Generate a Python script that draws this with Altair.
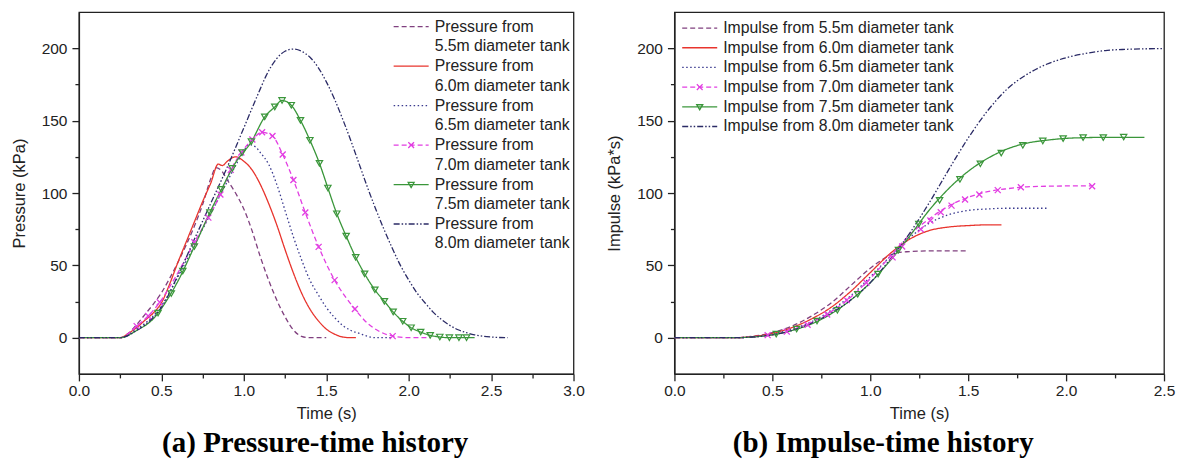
import altair as alt
import pandas as pd

# ---------------- data ----------------
TANKS = ["5.5m", "6.0m", "6.5m", "7.0m", "7.5m", "8.0m"]

# Pressure-time history (kPa)
P55_T = [0, 0.25, 0.30, 0.35, 0.40, 0.45, 0.50, 0.55, 0.60, 0.65, 0.70, 0.75, 0.80, 0.83, 0.86, 0.90, 0.95, 1.00, 1.05, 1.10, 1.15, 1.20, 1.25, 1.30, 1.35, 1.40, 1.50]
P55_P = [0, 0, 3, 9, 16, 23, 31, 41, 52, 64, 77, 92, 110, 117.5, 116, 109, 100, 89, 74, 56, 40, 26, 14.5, 5.5, 1, 0, 0]

P60_T = [0, 0.25, 0.30, 0.35, 0.40, 0.45, 0.50, 0.55, 0.60, 0.65, 0.70, 0.75, 0.80, 0.845, 0.87, 0.90, 0.95, 1.00, 1.05, 1.10, 1.15, 1.20, 1.25, 1.30, 1.35, 1.40, 1.45, 1.50, 1.55, 1.60, 1.65, 1.68]
P60_P = [0, 0, 3, 7, 12, 17, 24, 37, 52, 66, 80, 94, 107, 120, 119, 122, 125, 122, 116, 106, 93, 78, 61, 45, 31, 20, 12, 6, 2.5, 0.5, 0, 0]

P65_T = [0, 0.25, 0.35, 0.45, 0.50, 0.60, 0.70, 0.80, 0.90, 0.95, 1.00, 1.03, 1.07, 1.10, 1.15, 1.20, 1.25, 1.30, 1.35, 1.40, 1.45, 1.50, 1.55, 1.60, 1.65, 1.70, 1.75, 1.80, 1.90]
P65_P = [0, 0, 6, 15, 22, 42, 64, 86, 108, 119, 129, 133.5, 132, 128, 120, 106, 88, 70, 54, 40, 30, 21, 14, 8.5, 5, 3, 1, 0, 0]

P70_T = [0, 0.25, 0.35, 0.42, 0.49, 0.56, 0.63, 0.70, 0.785, 0.858, 0.921, 0.985, 1.052, 1.111, 1.174, 1.236, 1.301, 1.373, 1.454, 1.551, 1.674, 1.75, 1.82, 1.903, 2.00, 2.13]
P70_P = [0, 0, 8, 15, 24.5, 37, 51, 66, 83, 99, 116, 128, 137, 142, 139.4, 126.6, 109, 86.5, 62.8, 39.8, 19.8, 10, 4.5, 1.1, 0, 0]

P75_T = [0, 0.25, 0.35, 0.45, 0.48, 0.55, 0.60, 0.70, 0.794, 0.864, 0.95, 1.046, 1.127, 1.188, 1.232, 1.288, 1.344, 1.401, 1.459, 1.51, 1.564, 1.621, 1.679, 1.733, 1.795, 1.853, 1.906, 1.964, 2.015, 2.073, 2.131, 2.189, 2.247, 2.40]
P75_P = [0, 0, 5, 13, 17, 29, 39, 63, 86.5, 102.5, 121, 135.5, 152.6, 159.5, 164, 160.7, 150.2, 136.5, 120.5, 103.5, 85.7, 70.2, 55.5, 44.1, 33.1, 25.1, 17.8, 11.4, 6.9, 3.9, 1.6, 0.5, 0, 0]

P80_T = [0, 0.25, 0.35, 0.45, 0.50, 0.60, 0.70, 0.80, 0.90, 1.00, 1.10, 1.135, 1.20, 1.25, 1.30, 1.35, 1.40, 1.45, 1.50, 1.55, 1.60, 1.65, 1.70, 1.75, 1.80, 1.85, 1.90, 1.95, 2.00, 2.05, 2.10, 2.15, 2.20, 2.25, 2.30, 2.35, 2.40, 2.50, 2.60]
P80_P = [0, 0, 5, 14, 21, 43, 68, 93, 118, 145, 172, 181, 193, 198, 199.5, 198, 194, 187, 177, 165, 151, 136, 120, 104, 89, 75, 62, 50, 40, 31, 24, 17.5, 12.5, 8.5, 5.5, 3.5, 2, 0.5, 0]

# marker positions on the pressure curves
PM70_T = [0.35, 0.42, 0.49, 0.70, 0.785, 0.858, 0.921, 0.985, 1.052, 1.111, 1.174, 1.236, 1.301, 1.373, 1.454, 1.551, 1.674, 1.903]
PM70_P = [8, 15, 24.5, 66, 83, 99, 116, 128, 137, 142, 139.4, 126.6, 109, 86.5, 62.8, 39.8, 19.8, 1.1]
PM75_T = [0.48, 0.56, 0.63, 0.70, 0.794, 0.864, 0.93, 0.99, 1.046, 1.127, 1.188, 1.232, 1.288, 1.344, 1.401, 1.459, 1.51, 1.564, 1.621, 1.679, 1.733, 1.795, 1.853, 1.906, 1.964, 2.015, 2.073, 2.131, 2.189, 2.247, 2.305, 2.351]
PM75_P = [17, 30.5, 46, 63, 86.5, 102.5, 117, 128, 135.5, 152.6, 159.5, 164, 160.7, 150.2, 136.5, 120.5, 103.5, 85.7, 70.2, 55.5, 44.1, 33.1, 25.1, 17.8, 11.4, 6.9, 3.9, 1.6, 0.5, 0, 0, 0]

# Impulse-time history (kPa*s)
I55_T = [0, 0.30, 0.40, 0.50, 0.60, 0.70, 0.80, 0.90, 1.00, 1.05, 1.10, 1.15, 1.20, 1.30, 1.40, 1.50]
I55_P = [0, 0, 1, 3.5, 8, 15, 24, 36, 48, 53, 57, 59, 59.5, 60, 60, 60]
I60_T = [0, 0.30, 0.40, 0.50, 0.60, 0.70, 0.80, 0.90, 1.00, 1.10, 1.20, 1.30, 1.40, 1.50, 1.60, 1.67]
I60_P = [0, 0, 0.8, 3, 7, 13, 21, 32, 45, 58, 68, 74, 76.5, 77.5, 78, 78]
I65_T = [0, 0.30, 0.40, 0.50, 0.60, 0.70, 0.80, 0.90, 1.00, 1.10, 1.20, 1.30, 1.40, 1.50, 1.60, 1.70, 1.80, 1.90]
I65_P = [0, 0, 0.5, 2.5, 6, 11, 19, 29, 42, 56, 69, 79, 85, 88, 89, 89.5, 89.5, 89.5]
I70_T = [0, 0.30, 0.40, 0.50, 0.60, 0.70, 0.80, 0.90, 1.00, 1.10, 1.20, 1.30, 1.40, 1.50, 1.60, 1.70, 1.80, 1.90, 2.00, 2.13]
I70_P = [0, 0, 0.5, 2, 5.5, 10.5, 18, 28, 41, 56, 71, 82, 91, 97, 101, 103, 104.3, 104.7, 104.9, 105]
I75_T = [0, 0.30, 0.40, 0.50, 0.60, 0.70, 0.80, 0.90, 1.00, 1.10, 1.20, 1.30, 1.40, 1.50, 1.60, 1.70, 1.80, 1.90, 2.00, 2.10, 2.20, 2.30, 2.40]
I75_P = [0, 0, 0.5, 2, 5, 9.5, 16.5, 26, 38, 53, 70, 88, 103, 115, 124, 130.5, 134.5, 136.5, 137.8, 138.3, 138.5, 138.5, 138.5]
I80_T = [0, 0.30, 0.40, 0.50, 0.60, 0.70, 0.80, 0.90, 1.00, 1.10, 1.20, 1.30, 1.40, 1.50, 1.60, 1.70, 1.80, 1.90, 2.00, 2.10, 2.20, 2.30, 2.40, 2.50]
I80_P = [0, 0, 0.5, 2, 5, 10, 17, 26, 38, 54, 72, 93, 116, 138, 157, 172, 182, 189, 193.5, 196.5, 198.5, 199.3, 199.7, 199.8]

IM70_T = [0.476, 0.574, 0.68, 0.78, 0.88, 0.98, 1.114, 1.163, 1.258, 1.307, 1.36, 1.415, 1.484, 1.557, 1.651, 1.769, 2.133]
IM70_P = [1.8, 4.2, 9, 16, 26, 38, 55.5, 63, 75, 81, 86.7, 91.3, 95.5, 99, 102, 104, 104.7]
IM75_T = [0.52, 0.624, 0.728, 0.832, 0.936, 1.04, 1.144, 1.248, 1.354, 1.458, 1.562, 1.669, 1.779, 1.881, 1.985, 2.087, 2.19, 2.294]
IM75_P = [2.5, 6, 11.5, 19, 30, 44, 60.5, 78.6, 95, 109.4, 120.2, 127.6, 133, 136, 137.6, 138.3, 138.3, 138.7]

COLORS = ["#80407f", "#e8342d", "#3a3a8f", "#e23ee2", "#3a963a", "#2b2b66"]
DASHES = [[5, 3], [1, 0], [1.5, 2.5], [5, 3], [1, 0], [6, 2, 1.5, 2, 1.5, 2]]


def frame(ts, vs, names):
    rows = []
    for name, t, v in zip(names, ts, vs):
        for a, b in zip(t, v):
            rows.append({"tank": name, "t": a, "v": b})
    return pd.DataFrame(rows)


p_df = frame([P55_T, P60_T, P65_T, P70_T, P75_T, P80_T], [P55_P, P60_P, P65_P, P70_P, P75_P, P80_P], TANKS)
i_df = frame([I55_T, I60_T, I65_T, I70_T, I75_T, I80_T], [I55_P, I60_P, I65_P, I70_P, I75_P, I80_P], TANKS)
pm_df = frame([PM70_T, PM75_T], [PM70_P, PM75_P], ["7.0m", "7.5m"])
im_df = frame([IM70_T, IM75_T], [IM70_P, IM75_P], ["7.0m", "7.5m"])

FONT = "Liberation Sans"
TXT = "#222222"
XPATH = "M-1,-1L1,1M-1,1L1,-1"
# legend symbols: symbol diameter 16 px (r = 8), line 35 px long
BASE = "M-2.19,0L2.19,0"
LEGEND_SHAPES = [
    BASE, BASE, BASE,
    BASE + "M0,0L0.36,0.36M0,0L-0.36,0.36M0,0L0.36,-0.36M0,0L-0.36,-0.36",
    BASE + "M-0.37,-0.26L0.37,-0.26L0,0.37Z",
    BASE,
]


def panel(df, mdf, xmax, ytitle, legend, caption, cap_dx, width):
    xall = [i * 0.25 for i in range(int(xmax * 4) + 1)]
    yall = [0, 25, 50, 75, 100, 125, 150, 175, 200]
    minor_x = "abs(datum.value * 2 - round(datum.value * 2)) > 0.01"
    minor_y = "abs(datum.value / 50 - round(datum.value / 50)) > 0.01"
    xscale = alt.Scale(domain=[0, xmax], nice=False, zero=False)
    yscale = alt.Scale(domain=[-25, 225], nice=False, zero=False)
    xaxis = alt.Axis(
        title="Time (s)", values=xall, labelFlush=False, labelOverlap=False, grid=False,
        labelExpr=f"{minor_x} ? '' : format(datum.value, '.1f')",
        tickSize={"condition": {"test": minor_x, "value": 4}, "value": 7},
        labelPadding=3, titlePadding=6,
    )
    yaxis = alt.Axis(
        title=ytitle, values=yall, labelOverlap=False, grid=False,
        labelExpr=f"{minor_y} ? '' : format(datum.value, 'd')",
        tickSize={"condition": {"test": minor_y, "value": 4}, "value": 7},
        labelPadding=5, titlePadding=14,
    )
    cscale = alt.Scale(domain=TANKS, range=COLORS)
    dscale = alt.Scale(domain=TANKS, range=DASHES)
    sscale = alt.Scale(domain=TANKS, range=LEGEND_SHAPES)
    x = alt.X("t:Q", scale=xscale, axis=xaxis)
    y = alt.Y("v:Q", scale=yscale, axis=yaxis)

    lines = alt.Chart(df).mark_line(strokeWidth=1.3, interpolate="monotone", clip=True).encode(
        x=x, y=y,
        color=alt.Color("tank:N", scale=cscale, legend=legend),
        strokeDash=alt.StrokeDash("tank:N", scale=dscale, legend=legend),
    )
    leg = alt.Chart(df).mark_point(opacity=0, filled=False).encode(
        x=x, y=y,
        color=alt.Color("tank:N", scale=cscale, legend=legend),
        shape=alt.Shape("tank:N", scale=sscale, legend=legend),
        strokeDash=alt.StrokeDash("tank:N", scale=dscale, legend=legend),
    )
    m70 = alt.Chart(mdf).transform_filter("datum.tank == '7.0m'").mark_point(
        shape=XPATH, size=36, color=COLORS[3], strokeWidth=1.3, filled=False, opacity=1
    ).encode(x=x, y=y)
    m75 = alt.Chart(mdf).transform_filter("datum.tank == '7.5m'").mark_point(
        shape="triangle-down", size=40, color=COLORS[4], strokeWidth=1.2, filled=False, opacity=1
    ).encode(x=x, y=y)
    return alt.layer(leg, lines, m70, m75).properties(
        width=width, height=362,
        title=alt.TitleParams(
            caption, orient="bottom", anchor="middle", frame="group", dx=cap_dx, offset=7,
            font="Liberation Serif", fontSize=29, fontWeight="bold", color="black",
        ),
    )


left_legend = alt.Legend(
    title=None, orient="none", legendX=323.5, legendY=5.5, padding=0,
    symbolSize=256, symbolStrokeWidth=1.3, symbolOpacity=1,
    labelFont=FONT, labelFontSize=15.8, labelColor=TXT, labelOffset=14.5, labelLimit=400,
    rowPadding=2.5, labelBaseline="middle",
    labelExpr="['Pressure from', datum.label + ' diameter tank']",
)
right_legend = alt.Legend(
    title=None, orient="none", legendX=16.3, legendY=6.9, padding=0,
    symbolSize=256, symbolStrokeWidth=1.3, symbolOpacity=1,
    labelFont=FONT, labelFontSize=15.8, labelColor=TXT, labelOffset=14.5, labelLimit=400,
    rowPadding=2.7, labelBaseline="middle",
    labelExpr="'Impulse from ' + datum.label + ' diameter tank'",
)

left = panel(p_df, pm_df, 3.0, "Pressure (kPa)", left_legend,
             "(a) Pressure-time history", -11, 495)
right = panel(i_df, im_df, 2.5, "Impulse (kPa*s)", right_legend,
              "(b) Impulse-time history", -36, 490)

chart = alt.hconcat(left, right, spacing=20).resolve_scale(
    color="independent", shape="independent", strokeDash="independent"
).resolve_legend(
    color="independent", shape="independent", strokeDash="independent"
).properties(
    padding={"left": 2, "top": 3, "right": 0, "bottom": 0}
).configure(
    style={"guide-label": {"lineHeight": 19.5}}
).configure_axis(
    grid=False, domainColor=TXT, domainWidth=1.3, tickColor=TXT, tickWidth=1.3,
    labelFont=FONT, labelFontSize=15.5, labelColor=TXT,
    titleFont=FONT, titleFontSize=16.5, titleFontWeight="normal", titleColor=TXT,
).configure_view(
    stroke=TXT, strokeWidth=1.3
)

chart.save("out.html", embed_options={"renderer": "svg", "actions": False})
